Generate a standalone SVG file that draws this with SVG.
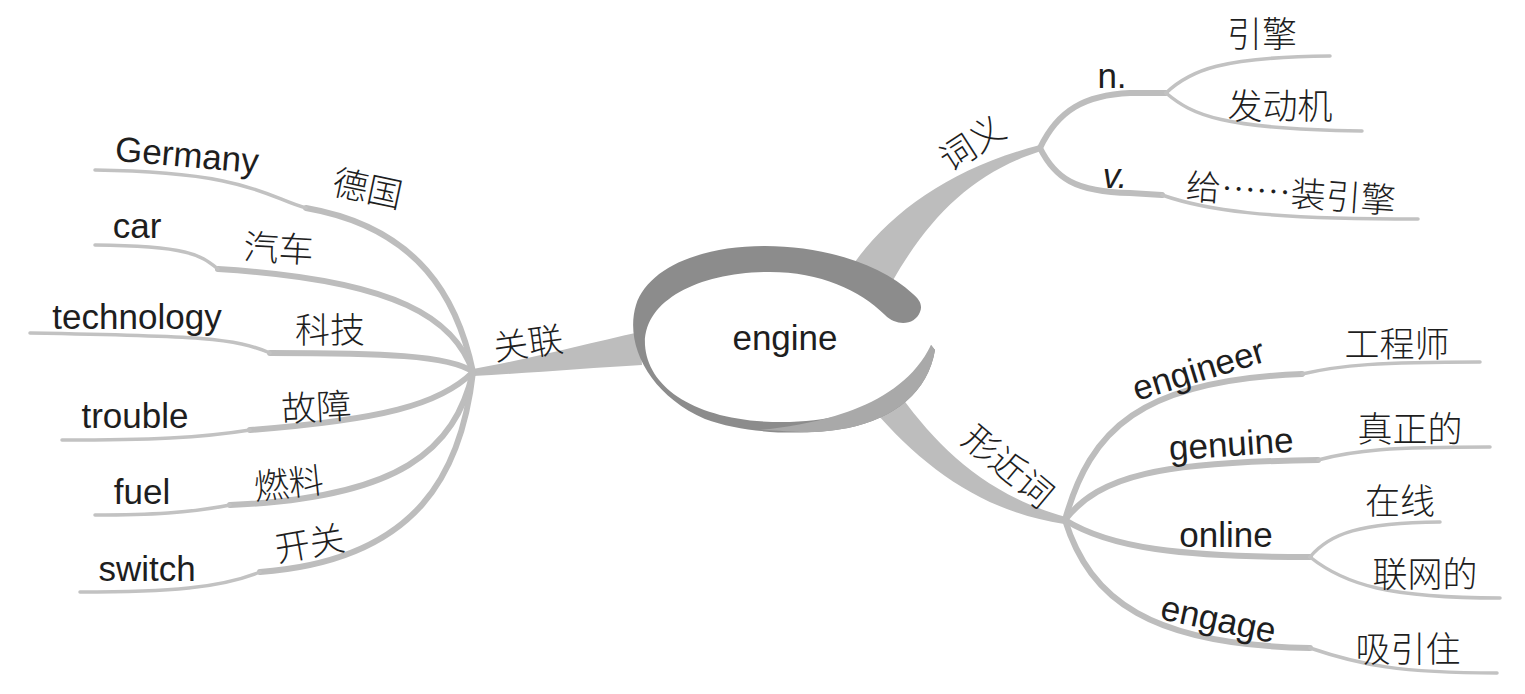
<svg xmlns="http://www.w3.org/2000/svg" width="1525" height="694" viewBox="0 0 1525 694">
<style>
.en{font-family:"Liberation Sans",Arial,sans-serif;font-size:35px;fill:#1e1e1e;text-anchor:middle}
.zh{font-family:"Noto Sans CJK SC",sans-serif;font-weight:300;font-size:35px;fill:#1e1e1e;text-anchor:middle}
.band{fill:#bdbdbd}
.thick{fill:none;stroke:#bdbdbd;stroke-width:6;stroke-linecap:round;stroke-linejoin:round}
.thin{fill:none;stroke:#c2c2c2;stroke-width:3.5;stroke-linecap:round;stroke-linejoin:round}
</style>
<rect width="1525" height="694" fill="#fff"/>
<g id="connectors">
<path class="band" d="M640,332 C585,344 525,360 473,369 L473,376 C530,373 590,368 642,365 Z"/>
<path class="band" d="M848,272 C885,215 950,168 1040,145 L1041,151 C975,172 930,215 892,282 Z"/>
<path class="band" d="M895,388 C935,445 985,495 1066,517 L1064,524 C985,512 925,470 872,408 Z"/>
<path class="thick" d="M1040,148 C1058,110 1085,95 1130,93 L1166,93"/>
<path class="thin" d="M1166,93 C1190,70 1222,57 1330,56"/>
<path class="thin" d="M1166,93 C1192,115 1222,129 1362,131"/>
<path class="thick" d="M1040,148 C1055,178 1075,192 1130,193 L1162,195"/>
<path class="thin" d="M1162,195 C1205,210 1262,219 1418,219"/>
<path class="thick" d="M473,372 C458,300 420,228 306,208"/>
<path class="thin" d="M306,208 C268,198 250,172 95,170"/>
<path class="thick" d="M473,372 C455,320 400,280 218,269"/>
<path class="thin" d="M218,269 C200,255 190,246 95,245"/>
<path class="thick" d="M473,372 C450,355 380,353 270,353"/>
<path class="thin" d="M270,353 C235,338 200,336 30,333"/>
<path class="thick" d="M473,372 C440,405 380,420 250,430"/>
<path class="thin" d="M250,430 C200,438 150,440 62,440"/>
<path class="thick" d="M473,372 C455,450 400,498 230,505"/>
<path class="thin" d="M230,505 C190,513 150,515 95,515"/>
<path class="thick" d="M473,372 C462,470 420,560 260,572"/>
<path class="thin" d="M260,572 C220,588 170,592 80,592"/>
<path class="thick" d="M1065,520 C1090,430 1140,380 1302,374"/>
<path class="thin" d="M1302,374 C1340,365 1380,362 1480,362"/>
<path class="thick" d="M1065,520 C1100,475 1160,462 1318,460"/>
<path class="thin" d="M1318,460 C1355,450 1390,447 1490,447"/>
<path class="thick" d="M1065,520 C1110,548 1180,557 1310,557"/>
<path class="thin" d="M1310,557 C1330,533 1360,523 1440,522"/>
<path class="thin" d="M1310,557 C1345,585 1390,598 1500,598"/>
<path class="thick" d="M1065,520 C1090,600 1150,645 1310,648"/>
<path class="thin" d="M1310,648 C1360,665 1400,673 1497,673"/>
</g>
<g id="center">
<path d="M913,294 C880,263 822,246 765,246 C700,246 648,268 636,305 C624,345 650,395 705,419 C745,434 805,436 848,428 C895,418 928,392 935,350 L931,345 C925,385 880,418 790,422 C700,424 648,390 645,345 C643,300 700,272 770,272 C820,272 860,290 885,315 C897,327 915,325 920,312 C923,305 919,299 913,294 Z" fill="#8c8c8c"/>
<path d="M935,350 C928,392 895,418 848,428 C805,436 790,430 760,430 C810,425 900,410 931,345 Z" fill="#a9a9a9"/>
<text class="en" x="785" y="350">engine</text>
</g>
<g id="n-ciyi"><text class="zh" transform="translate(979,154) rotate(-33)">词义</text></g>
<g id="n-n"><text class="en" x="1112" y="88">n.</text></g>
<g id="n-yinqing"><text class="zh" x="1262" y="47">引擎</text></g>
<g id="n-fadongji"><text class="zh" x="1280" y="119">发动机</text></g>
<g id="n-v"><text class="en" x="1115" y="188" font-style="italic">v.</text></g>
<g id="n-gei"><text class="zh" transform="translate(1290,206) rotate(4)">给……装引擎</text></g>
<g id="n-xingjinci"><text class="zh" transform="translate(1000,476) rotate(40)">形近词</text></g>
<g id="n-engineer"><text class="en" transform="translate(1202,381) rotate(-17)">engineer</text></g>
<g id="n-gongchengshi"><text class="zh" x="1397" y="357">工程师</text></g>
<g id="n-genuine"><text class="en" transform="translate(1232,456) rotate(-4)">genuine</text></g>
<g id="n-zhenzheng"><text class="zh" x="1410" y="442">真正的</text></g>
<g id="n-online"><text class="en" x="1226" y="547">online</text></g>
<g id="n-zaixian"><text class="zh" x="1400" y="514">在线</text></g>
<g id="n-lianwang"><text class="zh" x="1425" y="587">联网的</text></g>
<g id="n-engage"><text class="en" transform="translate(1216,631) rotate(12)">engage</text></g>
<g id="n-xiyinzhu"><text class="zh" x="1408" y="662">吸引住</text></g>
<g id="n-guanlian"><text class="zh" transform="translate(530,356) rotate(-8)">关联</text></g>
<g id="n-deguo"><text class="zh" transform="translate(365,201) rotate(12)">德国</text></g>
<g id="n-germany"><text class="en" transform="translate(186,167) rotate(5)">Germany</text></g>
<g id="n-qiche"><text class="zh" transform="translate(278,261) rotate(3)">汽车</text></g>
<g id="n-car"><text class="en" x="137" y="238">car</text></g>
<g id="n-keji"><text class="zh" x="330" y="343">科技</text></g>
<g id="n-technology"><text class="en" x="137" y="329">technology</text></g>
<g id="n-guzhang"><text class="zh" transform="translate(317,420) rotate(-3)">故障</text></g>
<g id="n-trouble"><text class="en" x="135" y="428">trouble</text></g>
<g id="n-ranliao"><text class="zh" transform="translate(290,496) rotate(-6)">燃料</text></g>
<g id="n-fuel"><text class="en" x="142" y="504">fuel</text></g>
<g id="n-kaiguan"><text class="zh" transform="translate(312,556) rotate(-10)">开关</text></g>
<g id="n-switch"><text class="en" x="147" y="581">switch</text></g>
</svg>
